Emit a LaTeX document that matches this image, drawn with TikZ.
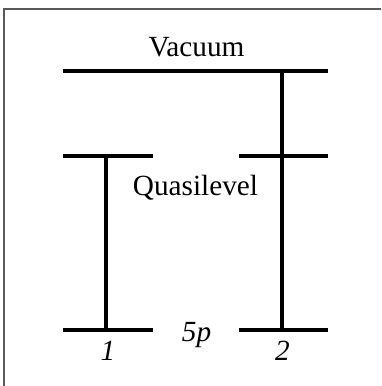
\documentclass[tikz,border=0pt]{standalone}
\usepackage{fontspec}
\setmainfont{Liberation Serif}
\usetikzlibrary{positioning}

\begin{document}
\begin{tikzpicture}[
  x=0.0125cm, y=-0.0125cm,
  lvl/.style = {line width=1.1pt},
  frm/.style = {draw=black!65, line width=0.5pt},
  lbl/.style = {font=\fontsize{10.4}{12}\selectfont, inner sep=0pt, anchor=base}
]
\useasboundingbox (0,0) rectangle (381,386);
% frame corner
\coordinate (fb) at (4,386);
\coordinate (fc) at (4,9);
\coordinate (fr) at (381,9);
\draw[frm] (fb) -- (fc) -- (fr);
% level ends
\coordinate (vacL) at (63,71);
\coordinate (vacR) at (328,71);
\coordinate (qlL)  at (63,156);
\coordinate (qlM)  at (153,156);
\coordinate (qrM)  at (239,156);
\coordinate (qrR)  at (328,156);
\coordinate (pL)   at (63,330);
\coordinate (pLM)  at (153,330);
\coordinate (pRM)  at (239,330);
\coordinate (pR)   at (328,330);
\coordinate (topA) at (106,156);
\coordinate (botA) at (106,330);
\coordinate (topB) at (282,71);
\coordinate (botB) at (282,330);
\draw[lvl] (vacL) -- (vacR);
\draw[lvl] (qlL) -- (qlM);
\draw[lvl] (qrM) -- (qrR);
\draw[lvl] (pL) -- (pLM);
\draw[lvl] (pRM) -- (pR);
\draw[lvl] (topA) -- (botA);
\draw[lvl] (topB) -- (botB);
% labels
\node[lbl] (vac)   at (196.5,57)  {Vacuum};
\node[lbl] (quasi) at (195.5,196) {Quasilevel};
\node[lbl] (fivep) at (196.5,341.5) {\itshape 5p};
\node[lbl] (one)   at (108,360)   {\itshape 1};
\node[lbl] (two)   at (282.5,360) {\itshape 2};
\end{tikzpicture}
\end{document}
